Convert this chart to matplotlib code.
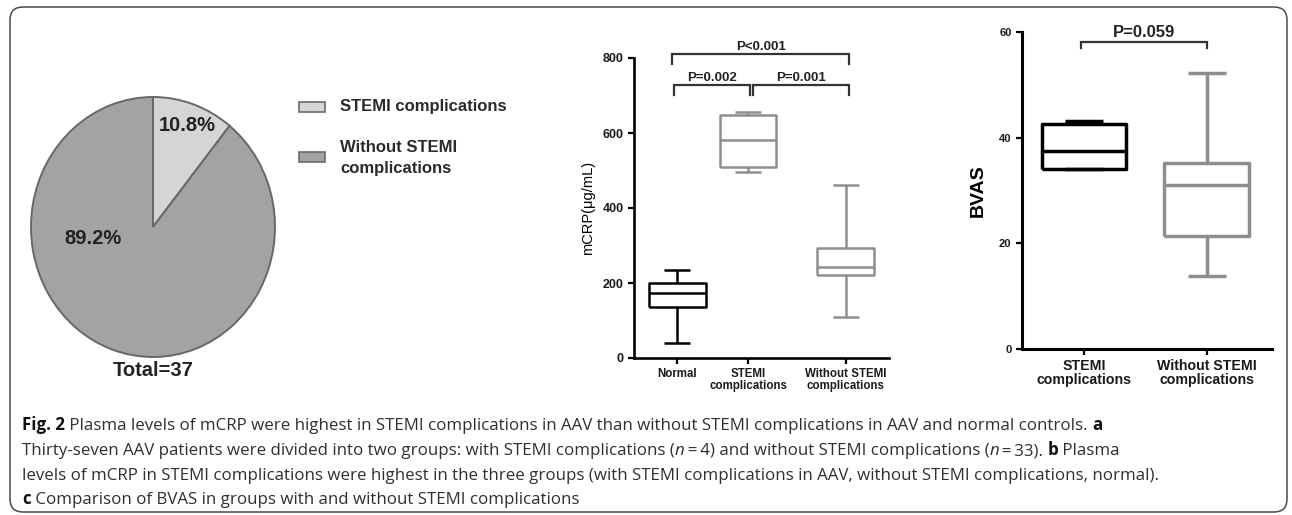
import matplotlib
matplotlib.use("Agg")
import matplotlib.pyplot as plt
from matplotlib.patches import Rectangle, FancyBboxPatch

W, H, DPI = 1292, 515, 100

# ---- data -------------------------------------------------------------
# Panel a: share of AAV patients
pie_labels = ["STEMI complications", "Without STEMI\ncomplications"]
pie_shares = [10.8, 89.2]
pie_total = 37

# Panel b: mCRP (µg/mL), five-number summaries (whislo, q1, med, q3, whishi)
mcrp_groups = ["Normal", "STEMI\ncomplications", "Without STEMI\ncomplications"]
mcrp_normal = [40, 136, 173, 200, 235]
mcrp_stemi = [496, 509, 581, 648, 656]
mcrp_without = [109, 221, 243, 293, 461]
mcrp_ticks = [0, 200, 400, 600, 800]
mcrp_pvals = ["P=0.002", "P=0.001", "P<0.001"]

# Panel c: BVAS, five-number summaries
bvas_groups = ["STEMI\ncomplications", "Without STEMI\ncomplications"]
bvas_stemi = [34.1, 34.1, 37.5, 42.6, 43.2]
bvas_without = [13.8, 21.4, 31.0, 35.2, 52.2]
bvas_ticks = [0, 20, 40, 60]
bvas_pval = "P=0.059"

# ---- style ------------------------------------------------------------
SANS = ["Liberation Sans", "DejaVu Sans"]
CAP = ["Open Sans", "DejaVu Sans"]
LIGHT, DARK, EDGE = "#d5d5d5", "#a3a3a3", "#686868"
GRAY = "#8e8e8e"
plt.rcParams["font.family"] = SANS

fig = plt.figure(figsize=(W / DPI, H / DPI), dpi=DPI)


def fx(px):
    return px / W


def fy(py):
    return 1 - py / H


# outer rounded frame
frame = FancyBboxPatch((10 / DPI, (H - 512) / DPI), 1277 / DPI, 505 / DPI,
                       boxstyle="round,pad=0,rounding_size=0.13",
                       transform=fig.dpi_scale_trans, facecolor="none",
                       edgecolor="#4a4a4a", linewidth=1.1, zorder=-1)
fig.patches.append(frame)

# ---- panel a: pie -----------------------------------------------------
m = 1.03
ax_a = fig.add_axes([fx(153 - 122 * m), fy(227 + 130 * m), 244 * m / W, 260 * m / H])
ax_a.pie(pie_shares, colors=[LIGHT, DARK], startangle=90, counterclock=False,
         wedgeprops=dict(edgecolor=EDGE, linewidth=1.4))
ax_a.set_aspect("auto")
ax_a.set_xlim(-m, m)
ax_a.set_ylim(-m, m)
ax_a.axis("off")
ax_a.text(0.28, 0.78, f"{pie_shares[0]}%", ha="center", va="center",
          fontsize=14.5, fontweight="bold", color="#222222")
ax_a.text(-0.49, -0.09, f"{pie_shares[1]}%", ha="center", va="center",
          fontsize=14.5, fontweight="bold", color="#222222")
fig.text(fx(153), fy(371), f"Total={pie_total}", ha="center", va="center",
         fontsize=14.5, fontweight="bold", color="#222222")

# legend
for (y0, col, lab, ty) in [(102, LIGHT, pie_labels[0], 106),
                           (152, DARK, pie_labels[1], 158)]:
    fig.patches.append(Rectangle((fx(299), fy(y0 + 10)), 26 / W, 10 / H,
                                 transform=fig.transFigure, facecolor=col,
                                 edgecolor=EDGE, linewidth=1.2))
    fig.text(fx(340), fy(ty), lab, ha="left", va="center", fontsize=12,
             fontweight="bold", color="#2a2a2a", linespacing=1.55)


def style_axes(ax, lw=1.9):
    for s in ("top", "right"):
        ax.spines[s].set_visible(False)
    for s in ("left", "bottom"):
        ax.spines[s].set_linewidth(lw)
    ax.tick_params(direction="out", length=4, width=1.6, colors="black",
                   labelcolor="#1a1a1a")


def box(ax, summary, pos, width, capw, color, lw):
    st = dict(whislo=summary[0], q1=summary[1], med=summary[2],
              q3=summary[3], whishi=summary[4], fliers=[])
    lp = dict(color=color, linewidth=lw, solid_capstyle="butt")
    ax.bxp([st], positions=[pos], widths=width, capwidths=capw,
           showfliers=False, boxprops=lp, whiskerprops=lp, capprops=lp,
           medianprops=lp, manage_ticks=False)


def bracket(ax, x1, x2, y, leg, text, fs, gap):
    ax.plot([x1, x1, x2, x2], [y - leg, y, y, y - leg], color="#333333",
            linewidth=1.6, clip_on=False, solid_joinstyle="miter")
    ax.text((x1 + x2) / 2, y + gap, text, ha="center", va="bottom",
            fontsize=fs, fontweight="bold", color="#222222", clip_on=False)


# ---- panel b: mCRP ----------------------------------------------------
ax_b = fig.add_axes([fx(634), fy(358), (889 - 634) / W, 300 / H])
pos_b = [1, 2, 3.38]
for summ, p, c in zip([mcrp_normal, mcrp_stemi, mcrp_without], pos_b,
                      ["black", GRAY, GRAY]):
    box(ax_b, summ, p, 0.8, 0.36, c, 1.8)
ax_b.set_xlim(0.39, 3.99)
ax_b.set_ylim(0, 800)
ax_b.set_yticks(mcrp_ticks)
ax_b.set_yticklabels([str(t) for t in mcrp_ticks], fontsize=9, fontweight="bold")
ax_b.set_xticks(pos_b)
ax_b.set_xticklabels(mcrp_groups, fontsize=8.3, fontweight="bold",
                     linespacing=1.0)
ax_b.set_ylabel("mCRP(\u03bcg/mL)", fontsize=10.5, labelpad=5)
style_axes(ax_b)
bracket(ax_b, 0.95, 2.03, 728, 26, mcrp_pvals[0], 9.5, 3)
bracket(ax_b, 2.07, 3.43, 728, 26, mcrp_pvals[1], 9.5, 3)
bracket(ax_b, 0.93, 3.43, 811, 26, mcrp_pvals[2], 9.5, 3)

# ---- panel c: BVAS ----------------------------------------------------
ax_c = fig.add_axes([fx(1022), fy(349), (1272 - 1022) / W, 317 / H])
pos_c = [1, 2]
for summ, p, c in zip([bvas_stemi, bvas_without], pos_c, ["black", GRAY]):
    box(ax_c, summ, p, 0.69, 0.31, c, 2.5)
ax_c.set_xlim(0.496, 2.53)
ax_c.set_ylim(0, 60)
ax_c.set_yticks(bvas_ticks)
ax_c.set_yticklabels([str(t) for t in bvas_ticks], fontsize=8, fontweight="bold")
ax_c.set_xticks(pos_c)
ax_c.set_xticklabels(bvas_groups, fontsize=10.2, fontweight="bold",
                     linespacing=1.0)
ax_c.set_ylabel("BVAS", fontsize=14, fontweight="bold", labelpad=9)
style_axes(ax_c, lw=2.2)
bracket(ax_c, 0.98, 2.0, 58.1, 1.2, bvas_pval, 12, 0.4)

# ---- caption ----------------------------------------------------------
caption = [
    [("Fig. 2", "bold", "normal"),
     (" Plasma levels of mCRP were highest in STEMI complications in AAV than "
      "without STEMI complications in AAV and normal controls. ", "normal", "normal"),
     ("a", "bold", "normal")],
    [("Thirty-seven AAV patients were divided into two groups: with STEMI "
      "complications (", "normal", "normal"),
     ("n", "normal", "italic"),
     ("\u2009=\u20094) and without STEMI complications (", "normal", "normal"),
     ("n", "normal", "italic"),
     ("\u2009=\u200933). ", "normal", "normal"),
     ("b", "bold", "normal"),
     (" Plasma", "normal", "normal")],
    [("levels of mCRP in STEMI complications were highest in the three groups "
      "(with STEMI complications in AAV, without STEMI complications, normal).",
      "normal", "normal")],
    [("c", "bold", "normal"),
     (" Comparison of BVAS in groups with and without STEMI complications",
      "normal", "normal")],
]
baselines = [430, 455, 480, 504]
renderer = fig.canvas.get_renderer()


def seg_width(txt, weight, style, fs):
    t1 = fig.text(0, 0, txt + "|", fontsize=fs, fontweight=weight,
                  fontstyle=style, family=CAP)
    t2 = fig.text(0, 0, "|", fontsize=fs, fontweight=weight,
                  fontstyle=style, family=CAP)
    w = t1.get_window_extent(renderer).width - t2.get_window_extent(renderer).width
    t1.remove()
    t2.remove()
    return w


ref_w = sum(seg_width(s, w, st, 10) for s, w, st in caption[2])
cap_fs = 10 * (1160 - 22) / ref_w

for line, yb in zip(caption, baselines):
    x = 22
    for txt, weight, style in line:
        fig.text(fx(x), fy(yb), txt, ha="left", va="baseline", fontsize=cap_fs,
                 fontweight=weight, fontstyle=style, family=CAP,
                 color="#2f2f2f" if weight == "normal" else "#111111")
        x += seg_width(txt, weight, style, cap_fs)

fig.savefig("out.png", dpi=DPI)
